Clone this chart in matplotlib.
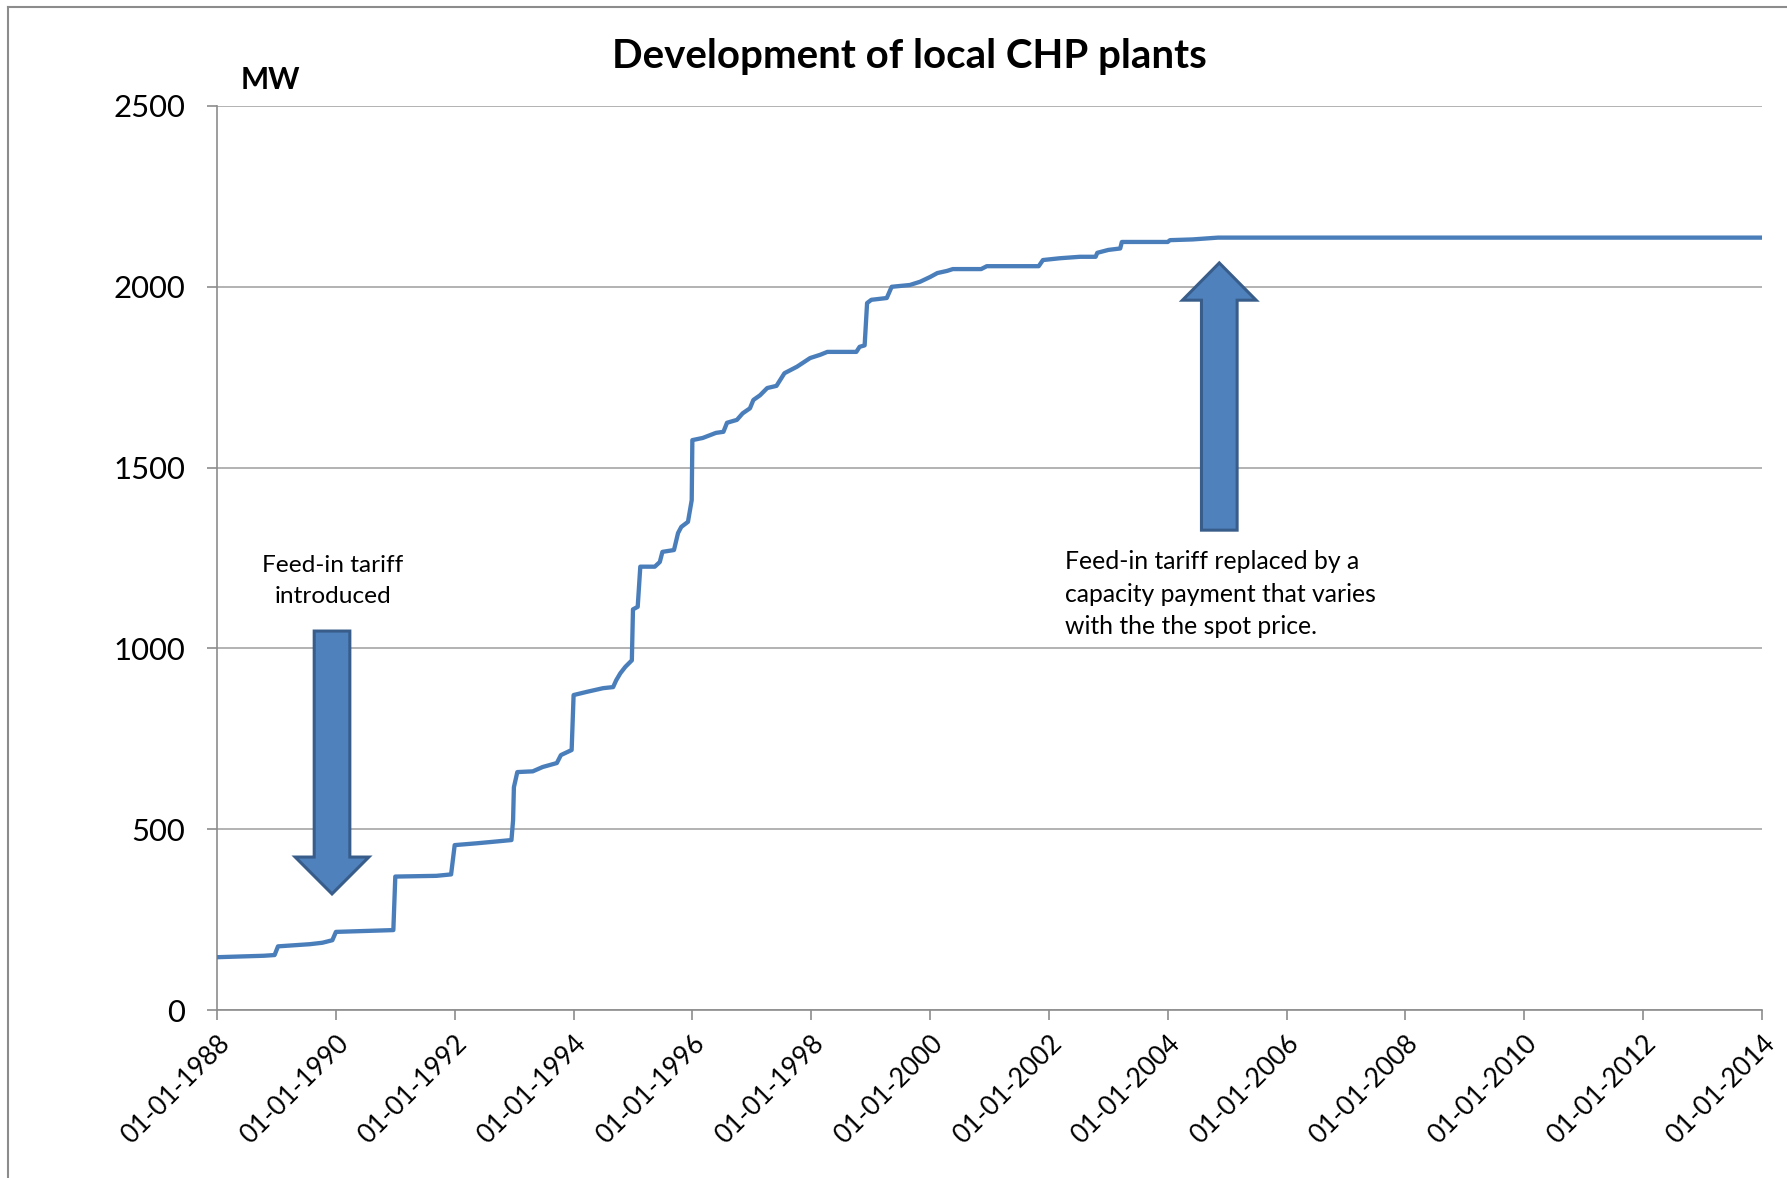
import matplotlib
matplotlib.use("Agg")
import matplotlib.pyplot as plt
import matplotlib.dates as mdates
from matplotlib.patches import Polygon
import pandas as pd

# ---------------- data ----------------
dates = [
    "1988-01-01", "1988-10-15", "1988-12-20", "1989-01-10", "1989-07-25",
    "1989-10-10", "1989-12-10", "1990-01-01", "1990-12-20", "1991-01-01",
    "1991-09-10", "1991-12-10", "1992-01-01", "1992-05-15", "1992-08-20",
    "1992-12-15", "1992-12-25", "1992-12-30", "1993-01-20", "1993-04-25",
    "1993-06-25", "1993-09-20", "1993-10-15", "1993-12-20", "1994-01-01",
    "1994-03-25", "1994-07-01", "1994-09-01", "1994-09-20", "1994-10-15",
    "1994-11-15", "1994-12-25", "1995-01-01", "1995-01-30", "1995-02-15",
    "1995-05-15", "1995-06-15", "1995-07-01", "1995-09-10", "1995-10-05",
    "1995-10-25", "1995-12-05", "1995-12-28", "1996-01-01", "1996-03-05",
    "1996-05-25", "1996-07-10", "1996-08-01", "1996-10-01", "1996-11-05",
    "1996-12-20", "1997-01-10", "1997-02-20", "1997-04-05", "1997-06-01",
    "1997-07-20", "1997-10-05", "1997-12-25", "1998-02-25", "1998-04-10",
    "1998-10-05", "1998-10-25", "1998-11-25", "1998-12-10", "1999-01-05",
    "1999-04-10", "1999-05-10", "1999-08-30", "1999-11-01", "2000-01-01",
    "2000-02-15", "2000-04-15", "2000-05-20", "2000-11-10", "2000-12-15",
    "2001-10-30", "2001-11-25", "2002-03-10", "2002-07-10", "2002-10-15",
    "2002-10-25", "2003-01-01", "2003-03-15", "2003-03-25", "2004-01-01",
    "2004-01-15", "2004-06-01", "2004-11-05", "2014-01-01",
]
capacity_mw = [
    146, 150, 152, 176, 182,
    186, 193, 216, 221, 369,
    371, 375, 456, 461, 465,
    470, 525, 616, 658, 660,
    672, 683, 705, 719, 871,
    880, 890, 893, 912, 931,
    949, 967, 1108, 1115, 1226,
    1226, 1239, 1267, 1272, 1319,
    1336, 1350, 1410, 1576, 1582,
    1596, 1599, 1624, 1632, 1650,
    1664, 1687, 1700, 1720, 1726,
    1761, 1779, 1803, 1812, 1820,
    1820, 1834, 1838, 1955, 1964,
    1969, 2000, 2005, 2014, 2027,
    2038, 2044, 2049, 2049, 2057,
    2057, 2074, 2079, 2083, 2083,
    2094, 2102, 2106, 2124, 2124,
    2129, 2131, 2136, 2136,
]
y_ticks = [0, 500, 1000, 1500, 2000, 2500]
x_tick_years = list(range(1988, 2015, 2))

title = "Development of local CHP plants"
y_unit = "MW"
note_left = "Feed-in tariff\nintroduced"
note_right = "Feed-in tariff replaced by a\ncapacity payment that varies\nwith the the spot price."

# ---------------- figure ----------------
plt.rcParams["font.family"] = ["Lato", "DejaVu Sans"]
W, H = 1787, 1178
fig = plt.figure(figsize=(W / 100, H / 100), dpi=100)
ax = fig.add_axes([217 / W, 1 - 1010 / H, (1762 - 217) / W, (1010 - 106) / H])

x = pd.to_datetime(dates)
ax.plot(x, capacity_mw, color="#4A7EBB", lw=3.1, solid_joinstyle="round", zorder=3)

ax.set_xlim(pd.Timestamp("1988-01-01"), pd.Timestamp("2014-01-01"))
ax.set_ylim(0, 2500)
ax.set_yticks(y_ticks)
ax.set_xticks([pd.Timestamp(f"{y}-01-01") for y in x_tick_years])
ax.xaxis.set_major_formatter(mdates.DateFormatter("%d-%m-%Y"))

grid_c = "#A6A6A6"
ax.grid(axis="y", color=grid_c, lw=1.2)
ax.set_axisbelow(True)
for s in ["top", "right"]:
    ax.spines[s].set_visible(False)
for s in ["left", "bottom"]:
    ax.spines[s].set_color("#8C8C8C")
    ax.spines[s].set_linewidth(1.2)
ax.tick_params(axis="y", length=7, width=1.2, color="#8C8C8C", pad=16,
               labelsize=22.4, labelcolor="#000000")
ax.tick_params(axis="x", length=7, width=1.2, color="#8C8C8C", pad=8,
               labelsize=19, labelcolor="#000000")
for lab in ax.get_xticklabels():
    lab.set_rotation(45)
    lab.set_ha("right")
    lab.set_va("top")
    lab.set_rotation_mode("anchor")

# ---------------- arrows ----------------
def block_arrow(xc, y_tail, y_head_base, y_tip, shaft_hw, head_hw):
    xc = mdates.date2num(pd.Timestamp(xc))
    pts = [
        (xc - shaft_hw, y_tail), (xc + shaft_hw, y_tail),
        (xc + shaft_hw, y_head_base), (xc + head_hw, y_head_base),
        (xc, y_tip), (xc - head_hw, y_head_base),
        (xc - shaft_hw, y_head_base),
    ]
    ax.add_patch(Polygon(pts, closed=True, facecolor="#4F81BD",
                         edgecolor="#385D8A", lw=2.2, zorder=4))

day = 365.25
block_arrow("1989-12-08", 1048, 423, 321, 0.30 * day, 0.62 * day)
block_arrow("2004-11-13", 1327, 1963, 2066, 0.30 * day, 0.62 * day)

# ---------------- texts ----------------
fig.text(909 / W, 1 - 56.5 / H, title, ha="center", va="center",
         fontsize=29, fontweight="bold")
fig.text(241 / W, 1 - 80 / H, y_unit, ha="left", va="center",
         fontsize=21.5, fontweight="bold")
fig.text(333 / W, 1 - 581 / H, note_left, ha="center", va="center",
         fontsize=17.6, linespacing=1.56)
fig.text(1065 / W, 1 - 594 / H, note_right, ha="left", va="center",
         fontsize=17.8, linespacing=1.52)

# figure frame (top / left edges visible in reference)
fig.add_artist(plt.Line2D([8 / W, 8 / W], [0, 1 - 7 / H], color="#8C8C8C",
                          lw=1.5, transform=fig.transFigure))
fig.add_artist(plt.Line2D([8 / W, 1], [1 - 7 / H, 1 - 7 / H], color="#8C8C8C",
                          lw=1.5, transform=fig.transFigure))

fig.savefig("out.png", dpi=100, facecolor="white")
